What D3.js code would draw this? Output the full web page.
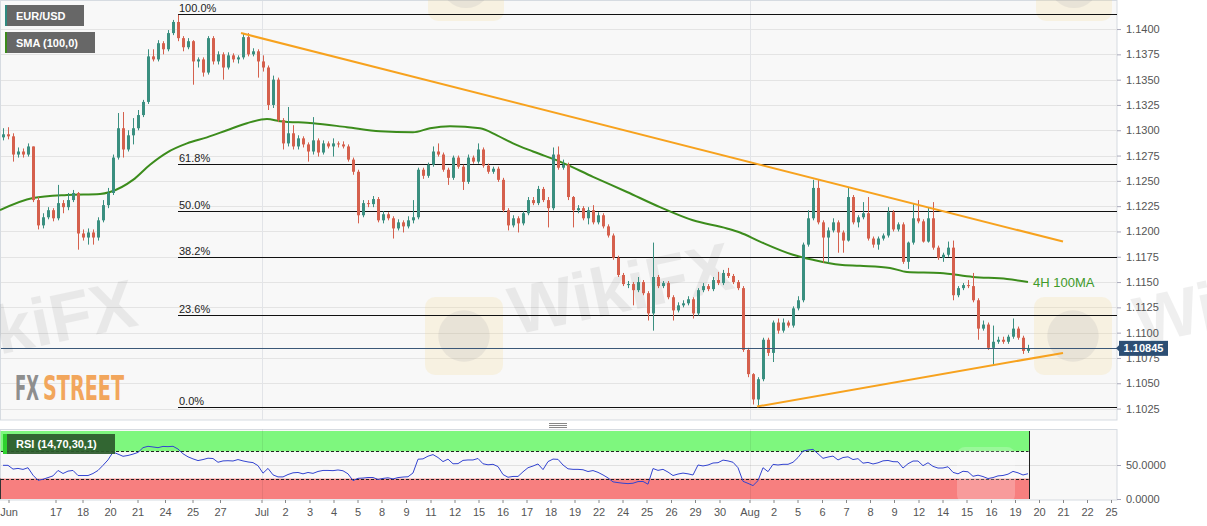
<!DOCTYPE html>
<html>
<head>
<meta charset="utf-8">
<script src="https://cdn.jsdelivr.net/npm/d3@7"></script>
<style>
html, body { margin: 0; padding: 0; background: #fff; }
svg { display: block; font-family: "Liberation Sans", Arial, sans-serif; }
</style>
</head>
<body>
<svg id="chart" width="1207" height="526"></svg>
<script>
///////////// DATA /////////////
// 4H candles, open = previous close
var firstOpen = 1.1293;
var closes = [
 1.1296,1.1294,1.1276,1.1279,1.1276,1.1284,1.1231,1.1206,1.1214,1.1221,
 1.1213,1.1228,1.1224,1.1231,1.1238,1.1198,1.1194,1.1199,1.1194,1.1211,
 1.1226,1.1238,1.1273,1.1302,1.1281,1.1295,1.1302,1.1315,1.1328,1.1373,
 1.1370,1.1386,1.1380,1.1396,1.1407,1.1391,1.1382,1.1388,1.1368,1.1370,
 1.1357,1.1391,1.1368,1.1375,1.1362,1.1374,1.1370,1.1372,1.1392,1.1375,
 1.1378,1.1368,1.1362,1.1325,1.1350,1.1310,1.1287,1.1297,1.1284,1.1292,
 1.1286,1.1279,1.1290,1.1278,1.1287,1.1284,1.1287,1.1286,1.1284,1.1271,
 1.1259,1.1216,1.1228,1.1227,1.1232,1.1211,1.1217,1.1213,1.1203,1.1209,
 1.1205,1.1211,1.1214,1.1261,1.1255,1.1266,1.1279,1.1276,1.1261,1.1253,
 1.1273,1.1264,1.1249,1.1273,1.1269,1.1281,1.1265,1.1259,1.1262,1.1251,
 1.1221,1.1206,1.1213,1.1208,1.1218,1.1231,1.1228,1.1242,1.1231,1.1223,
 1.1276,1.1263,1.1266,1.1234,1.1221,1.1223,1.1213,1.1221,1.1209,1.1216,
 1.1205,1.1196,1.1174,1.1157,1.1148,1.1148,1.1142,1.1150,1.1139,1.1119,
 1.1155,1.1146,1.1149,1.1135,1.1122,1.1127,1.1129,1.1133,1.1119,1.1142,
 1.1146,1.1143,1.1152,1.1149,1.1159,1.1156,1.1150,1.1144,1.1083,1.1059,
 1.1034,1.1054,1.1093,1.1080,1.1110,1.1102,1.1110,1.1107,1.1124,1.1132,
 1.1187,1.1213,1.1243,1.1209,1.1194,1.1201,1.1209,1.1199,1.1191,1.1234,
 1.1209,1.1214,1.1218,1.1193,1.1187,1.1193,1.1196,1.1219,1.1202,1.1207,
 1.1170,1.1189,1.1213,1.1210,1.1190,1.1213,1.1184,1.1174,1.1177,1.1184,
 1.1137,1.1144,1.1147,1.1146,1.1132,1.1104,1.1108,1.1085,1.1091,1.1093,
 1.1091,1.1096,1.1104,1.1095,1.1082,1.10845
];
var highs = [
 1.1302,1.1303,1.1297,1.1283,1.1282,1.1287,1.1284,1.1234,1.1218,1.1224,
 1.1223,1.1246,1.1231,1.1238,1.1241,1.1239,1.1202,1.1203,1.1202,1.1214,
 1.1231,1.1243,1.1276,1.1317,1.1318,1.1300,1.1312,1.1320,1.1330,1.1380,
 1.1380,1.1389,1.1388,1.1399,1.1409,1.1414,1.1393,1.1391,1.1389,1.1372,
 1.1372,1.1393,1.1393,1.1378,1.1377,1.1377,1.1376,1.1374,1.1396,1.1396,
 1.1381,1.1380,1.1374,1.1364,1.1354,1.1352,1.1312,1.1323,1.1305,1.1295,
 1.1294,1.1288,1.1313,1.1292,1.1290,1.1289,1.1292,1.1289,1.1289,1.1286,
 1.1273,1.1261,1.1231,1.1231,1.1235,1.1234,1.1220,1.1219,1.1215,1.1212,
 1.1211,1.1215,1.1231,1.1263,1.1263,1.1268,1.1284,1.1287,1.1278,1.1263,
 1.1275,1.1275,1.1266,1.1276,1.1275,1.1287,1.1283,1.1267,1.1264,1.1264,
 1.1253,1.1223,1.1216,1.1215,1.1220,1.1234,1.1234,1.1245,1.1244,1.1234,
 1.1283,1.1284,1.1271,1.1268,1.1235,1.1226,1.1225,1.1224,1.1226,1.1219,
 1.1218,1.1207,1.1198,1.1176,1.1159,1.1151,1.1150,1.1155,1.1152,1.1141,
 1.1189,1.1157,1.1151,1.1151,1.1137,1.1130,1.1132,1.1136,1.1135,1.1144,
 1.1149,1.1148,1.1155,1.1160,1.1162,1.1164,1.1158,1.1152,1.1146,1.1085,
 1.1060,1.1056,1.1095,1.1095,1.1112,1.1114,1.1114,1.1112,1.1126,1.1136,
 1.1189,1.1221,1.1251,1.1251,1.1211,1.1204,1.1213,1.1211,1.1201,1.1243,
 1.1236,1.1216,1.1229,1.1234,1.1195,1.1195,1.1198,1.1224,1.1221,1.1209,
 1.1209,1.1190,1.1228,1.1231,1.1212,1.1224,1.1229,1.1186,1.1179,1.1190,
 1.1191,1.1146,1.1149,1.1152,1.1159,1.1134,1.1112,1.1110,1.1107,1.1096,
 1.1096,1.1098,1.1114,1.1106,1.1097,1.1088
];
var lows = [
 1.1290,1.1291,1.1269,1.1273,1.1273,1.1274,1.1229,1.1202,1.1203,1.1212,
 1.1210,1.1211,1.1218,1.1221,1.1229,1.1182,1.1191,1.1187,1.1187,1.1191,
 1.1209,1.1223,1.1236,1.1271,1.1273,1.1279,1.1286,1.1300,1.1313,1.1326,
 1.1368,1.1368,1.1375,1.1378,1.1394,1.1388,1.1378,1.1380,1.1345,1.1362,
 1.1353,1.1355,1.1365,1.1365,1.1350,1.1360,1.1367,1.1366,1.1370,1.1373,
 1.1373,1.1352,1.1358,1.1320,1.1322,1.1308,1.1281,1.1284,1.1281,1.1281,
 1.1283,1.1269,1.1276,1.1274,1.1276,1.1282,1.1274,1.1283,1.1282,1.1269,
 1.1256,1.1208,1.1214,1.1224,1.1224,1.1209,1.1208,1.1211,1.1193,1.1201,
 1.1199,1.1203,1.1208,1.1212,1.1252,1.1253,1.1264,1.1274,1.1259,1.1246,
 1.1251,1.1262,1.1241,1.1247,1.1267,1.1267,1.1263,1.1257,1.1257,1.1249,
 1.1219,1.1201,1.1204,1.1199,1.1206,1.1216,1.1226,1.1226,1.1229,1.1204,
 1.1221,1.1261,1.1261,1.1231,1.1204,1.1218,1.1211,1.1207,1.1207,1.1207,
 1.1203,1.1194,1.1172,1.1155,1.1146,1.1144,1.1127,1.1140,1.1137,1.1112,
 1.1102,1.1144,1.1144,1.1133,1.1112,1.1120,1.1125,1.1127,1.1114,1.1117,
 1.1140,1.1141,1.1141,1.1147,1.1147,1.1154,1.1148,1.1142,1.1081,1.1056,
 1.1029,1.1027,1.1052,1.1077,1.1071,1.1099,1.1100,1.1105,1.1105,1.1122,
 1.1130,1.1185,1.1211,1.1207,1.1169,1.1169,1.1199,1.1179,1.1179,1.1190,
 1.1207,1.1204,1.1212,1.1191,1.1184,1.1182,1.1191,1.1194,1.1200,1.1200,
 1.1168,1.1163,1.1187,1.1208,1.1189,1.1189,1.1182,1.1172,1.1170,1.1175,
 1.1132,1.1135,1.1142,1.1144,1.1130,1.1093,1.1102,1.1083,1.1068,1.1089,
 1.1089,1.1089,1.1094,1.1093,1.1079,1.1080
];
var rsi = [
 49.5,49.5,44,45,43.5,46,35,27.5,29,31.5,
 34,42,37.5,41,42,34.5,34.5,34.5,37.5,42,
 49.5,57.5,69,66,62.8,64,66,68.5,75.5,77.5,
 76.5,75.5,77.3,77,77.5,73.5,66.5,62,59,56.5,
 58,60,59.5,54,56,56.3,55.9,58,56,54.5,
 53.5,49,38,45,35.5,32.5,32.5,36,38.5,39,
 37,39,37.7,40.5,42,42,41.7,42.7,41.5,37,
 27,30.4,30.8,31.6,31.6,28.8,30.3,31.2,29.5,31.5,
 32.3,32.7,38.3,58.5,59,63,65.3,61,55,58.6,
 51.8,52,56.8,57.4,57.4,59.6,51.8,50.3,51,47.7,
 36,32,33.2,33.2,40,46,48.5,51.5,43.2,55,
 58.7,58.3,50,44.4,43.6,43.6,43,40.4,41.8,39.2,
 35.4,31,25.2,24.1,23.2,22.6,23.2,25.6,25.8,21.8,
 44.8,42.1,43.6,39.6,34.5,36.7,38.1,37,35.3,50,
 48.6,50,52.9,53.4,57.2,56,54,46,26,23,
 19.7,27,46,40.2,50.9,50,51,51,54,61,
 70.5,72,73,66.5,59.8,61.7,63.1,57.4,61,62,
 58,59.3,52.7,53.8,51.5,53.2,56.1,56.7,54.9,54.7,
 45.5,51.9,55.8,55.9,49,53.3,48,45.5,45.6,47.4,
 39.2,37,40.8,40,33.4,35,33,30.1,31.5,34,
 34.6,36.5,40.6,38.5,35.3,37.2
];

// 100-period SMA (candle index, price)
var smaIdx = [-0.6,6,12.8,19.4,21.4,26,29.4,32.8,36.8,40.8,44.8,48.8,52.8,55.4,62,68.8,75.4,82,85.4,89.4,95.4,98.8,102,106,111.4,118,124.8,131.4,138,144.8,147.4,151.4,158,162,167.4,171.4,177.4,180.8,187.4,194,200.8,205];
var smaVal = [1.1221,1.1233,1.1236,1.1237,1.1239,1.1251,1.1266,1.1278,1.1287,1.1293,1.1300,1.1307,1.1311,1.1309,1.1307,1.1303,1.1299,1.1298,1.1302,1.1304,1.1302,1.1295,1.1287,1.1279,1.1269,1.1254,1.1239,1.1224,1.1211,1.1203,1.1199,1.1190,1.1177,1.1172,1.1167,1.1166,1.1164,1.1160,1.1159,1.1155,1.1153,1.1150];

// trend lines
var upperIdx = [47.6, 212], upperVal = [1.1396, 1.1190];
var lowerIdx = [150.8, 212], lowerVal = [1.1027, 1.1080];

// fibonacci retracement
var fibHigh = 1.14145, fibLow = 1.10263, fibStart = 35;
var fibLevels = [1, 0.618, 0.5, 0.382, 0.236, 0];

var lastPrice = 1.10845;
var priceTicks = [1.1025,1.1050,1.1075,1.1100,1.1125,1.1150,1.1175,1.1200,1.1225,1.1250,1.1275,1.1300,1.1325,1.1350,1.1375,1.1400];
var rsiTicks = [0, 50];
var rsiUpper = 70, rsiLower = 30;

var dayLabels = ['Jun','17','18','20','21','24','25','27','Jul','2','3','4','5','8','9','11','12','15','16','17','18','19','22','24','25','26','29','30','Aug','2','5','6','7','8','9','12','14','15','16','19','20','21','22','25'];
var dayTicks = [1.1,10.5,15.9,21.4,26.9,32.4,37.9,43.4,51.7,56.4,61.3,66.1,70.9,75.7,80.6,85.5,90.3,95.1,99.9,104.7,109.5,114.3,119.1,123.9,128.7,133.6,138.4,143.3,149.3,154.1,158.9,163.8,168.6,173.4,178.2,183.1,187.9,192.7,197.6,202.4,207.2,212.0,216.8,221.6];

///////////// LAYOUT /////////////
var plotR = 1117;
var mainBot = 420, rsiTop = 429.5, rsiBot = 500;
var upCol = '#3a8f80', downCol = '#d5604d';

var svg = d3.select('#chart');
var x = d3.scaleLinear().domain([-0.6, 222.8]).range([0, plotR]);
var y = d3.scaleLinear().domain([1.10137, 1.14287]).range([mainBot, 0]);
var yr = d3.scaleLinear().domain([0, 100]).range([499, 431]);
var lastIdx = closes.length - 1;

function px(v) { return Math.round(v) + 0.5; }

// panels
svg.append('rect').attr('x', 0.5).attr('y', 0.5).attr('width', plotR - 0.5).attr('height', mainBot - 0.5)
  .attr('fill', '#f8f8f8').attr('stroke', '#d6dbe1');
svg.append('rect').attr('x', 0.5).attr('y', rsiTop).attr('width', plotR - 0.5).attr('height', rsiBot - rsiTop)
  .attr('fill', '#f8f8f8').attr('stroke', '#d6dbe1');

// horizontal grid
svg.append('g').selectAll('line').data(priceTicks).join('line')
  .attr('x1', 1).attr('x2', plotR).attr('y1', function(d) { return px(y(d)); }).attr('y2', function(d) { return px(y(d)); })
  .attr('stroke', '#e4e4e4');

// month gridlines
var monthTicks = dayTicks.filter(function(d, i) { return isNaN(+dayLabels[i]) && i > 0; });
svg.append('g').selectAll('line').data(monthTicks).join('line')
  .attr('x1', function(d) { return px(x(d)); }).attr('x2', function(d) { return px(x(d)); })
  .attr('y1', 1).attr('y2', mainBot).attr('stroke', '#e2e4e8');

// watermarks
var wm = svg.append('g').attr('pointer-events', 'none');
function badge(bx, by, s) {
  wm.append('rect').attr('x', bx).attr('y', by).attr('width', s).attr('height', s).attr('rx', 10)
    .attr('fill', '#f2d27a').attr('opacity', 0.18);
  wm.append('circle').attr('cx', bx + s / 2).attr('cy', by + s / 2).attr('r', s * 0.33)
    .attr('fill', '#6a6a80').attr('opacity', 0.1);
}
function wmText(tx, ty, anchor) {
  wm.append('text').attr('x', tx).attr('y', ty).attr('text-anchor', anchor)
    .attr('transform', 'rotate(-12,' + tx + ',' + ty + ')')
    .attr('font-size', 68).attr('font-weight', 'bold').attr('fill', '#000').attr('opacity', 0.06)
    .text('WikiFX');
}
badge(428, -55, 76); badge(1036, -55, 76);
badge(425, 297, 78); badge(1034, 297, 78);
wmText(140, 325, 'end');
wmText(515, 335, 'start');
wmText(1140, 345, 'start');

// fibonacci lines
var fib = svg.append('g');
fibLevels.forEach(function(p) {
  var v = fibLow + p * (fibHigh - fibLow);
  fib.append('line').attr('x1', x(fibStart)).attr('x2', plotR)
    .attr('y1', px(y(v))).attr('y2', px(y(v))).attr('stroke', '#111').attr('stroke-width', 1);
  fib.append('text').attr('x', x(fibStart) + 1).attr('y', px(y(v)) - 3)
    .attr('font-size', 11).attr('fill', '#222').text(d3.format('.1f')(p * 100) + '%');
});

// SMA
var smaPts = smaIdx.map(function(d, i) { return [d, smaVal[i]]; });
svg.append('path').datum(smaPts)
  .attr('d', d3.line().x(function(d) { return x(d[0]); }).y(function(d) { return y(d[1]); }).curve(d3.curveMonotoneX))
  .attr('fill', 'none').attr('stroke', '#3c8c1c').attr('stroke-width', 2);

// candles
var candles = closes.map(function(c, i) {
  var o = i === 0 ? firstOpen : closes[i - 1];
  return {i: i, o: o, c: c, h: Math.max(highs[i], o, c), l: Math.min(lows[i], o, c)};
});
var cg = svg.append('g');
cg.selectAll('line').data(candles).join('line')
  .attr('x1', function(d) { return px(x(d.i)); }).attr('x2', function(d) { return px(x(d.i)); })
  .attr('y1', function(d) { return y(d.h); }).attr('y2', function(d) { return y(d.l); })
  .attr('stroke', function(d) { return d.c >= d.o ? upCol : downCol; });
cg.selectAll('rect').data(candles).join('rect')
  .attr('x', function(d) { return Math.round(x(d.i)) - 1; }).attr('width', 3)
  .attr('y', function(d) { return y(Math.max(d.o, d.c)); })
  .attr('height', function(d) { return Math.max(1, Math.abs(y(d.o) - y(d.c))); })
  .attr('fill', function(d) { return d.c >= d.o ? upCol : downCol; });

// trend lines
[[upperIdx, upperVal], [lowerIdx, lowerVal]].forEach(function(t) {
  svg.append('line').attr('x1', x(t[0][0])).attr('y1', y(t[1][0])).attr('x2', x(t[0][1])).attr('y2', y(t[1][1]))
    .attr('stroke', '#f7a21e').attr('stroke-width', 2);
});

svg.append('text').attr('x', x(lastIdx) + 5).attr('y', y(smaVal[smaVal.length - 1]) + 5)
  .attr('font-size', 13).attr('fill', '#3f9a2a').text('4H 100MA');

// last price line
svg.append('line').attr('x1', 1).attr('x2', plotR).attr('y1', px(y(lastPrice))).attr('y2', px(y(lastPrice)))
  .attr('stroke', '#3b5878').attr('stroke-width', 1);

// price axis
var pAxis = svg.append('g').attr('transform', 'translate(' + plotR + ',0)')
  .call(d3.axisRight(y).tickValues(priceTicks).tickFormat(d3.format('.4f')).tickSize(4).tickPadding(5));
pAxis.select('.domain').remove();
pAxis.selectAll('line').attr('stroke', '#aab');
pAxis.selectAll('text').attr('fill', '#555').attr('font-size', 11).attr('font-family', '"Liberation Sans", Arial, sans-serif');

// last price tag
var ly = y(lastPrice);
svg.append('path').attr('d', 'M' + (plotR - 1) + ',' + ly + 'L' + (plotR + 3) + ',' + (ly - 4) + 'L' + (plotR + 3) + ',' + (ly + 4) + 'Z')
  .attr('fill', '#2c4e74');
svg.append('rect').attr('x', plotR + 2).attr('y', ly - 7.5).attr('width', 49).attr('height', 15).attr('fill', '#2c4e74');
svg.append('text').attr('x', plotR + 26.5).attr('y', ly + 4).attr('text-anchor', 'middle')
  .attr('font-size', 11).attr('font-weight', 'bold').attr('fill', '#fff').text(d3.format('.5f')(lastPrice));

// legend boxes
function tag(tx, ty, w, h, accent, bg, label) {
  svg.append('rect').attr('x', tx).attr('y', ty).attr('width', w).attr('height', h).attr('fill', bg);
  svg.append('rect').attr('x', tx).attr('y', ty).attr('width', 2).attr('height', h).attr('fill', accent);
  svg.append('text').attr('x', tx + 11).attr('y', ty + h / 2 + 4).attr('font-size', 11).attr('font-weight', 'bold')
    .attr('fill', '#fff').text(label);
}
tag(5, 5, 79, 21, '#2f8a80', '#676767', 'EUR/USD');
tag(5, 32, 90, 21, '#3a8a1a', '#676767', 'SMA (100,0)');

// FXSTREET logo
function logoPart(lx, len, col, str) {
  svg.append('text').attr('x', lx).attr('y', 400).attr('font-size', 34).attr('font-weight', 'bold')
    .attr('font-family', '"Liberation Sans Narrow", "DejaVu Sans Condensed", sans-serif')
    .attr('textLength', len).attr('lengthAdjust', 'spacingAndGlyphs').attr('fill', col).text(str);
}
logoPart(15, 24, '#8e8e8e', 'FX');
logoPart(43, 81, '#f2a65c', 'STREET');

// resize handle
svg.append('g').selectAll('line').data([423.5, 425.5, 427.5]).join('line')
  .attr('x1', 549).attr('x2', 567).attr('y1', function(d) { return d; }).attr('y2', function(d) { return d; })
  .attr('stroke', '#888');

///////////// RSI PANEL /////////////
var xe = x(lastIdx) + 0.5;
svg.append('rect').attr('x', 0.5).attr('y', yr(100)).attr('width', xe).attr('height', yr(rsiUpper) - yr(100)).attr('fill', '#7ef77e');
svg.append('rect').attr('x', 0.5).attr('y', yr(rsiLower)).attr('width', xe).attr('height', yr(0) - yr(rsiLower)).attr('fill', '#f77f7f');
svg.append('line').attr('x1', 1).attr('x2', plotR).attr('y1', px(yr(50))).attr('y2', px(yr(50))).attr('stroke', '#e0e0e0');
[rsiUpper, rsiLower].forEach(function(v) {
  svg.append('line').attr('x1', 1).attr('x2', xe).attr('y1', px(yr(v))).attr('y2', px(yr(v)))
    .attr('stroke', '#222').attr('stroke-dasharray', '3,2');
});
svg.append('line').attr('x1', px(xe)).attr('x2', px(xe)).attr('y1', yr(100)).attr('y2', yr(0)).attr('stroke', '#222');
svg.append('line').attr('x1', 0.5).attr('x2', 0.5).attr('y1', yr(rsiLower)).attr('y2', yr(0)).attr('stroke', '#333');
svg.append('g').selectAll('line').data(monthTicks).join('line')
  .attr('x1', function(d) { return px(x(d)); }).attr('x2', function(d) { return px(x(d)); })
  .attr('y1', rsiTop).attr('y2', rsiBot).attr('stroke', '#000').attr('stroke-opacity', 0.07);
svg.append('rect').attr('x', 957).attr('y', 447).attr('width', 58).attr('height', 56).attr('rx', 8)
  .attr('fill', '#fff').attr('opacity', 0.22);

svg.append('path').datum(rsi)
  .attr('d', d3.line().x(function(d, i) { return x(i); }).y(function(d) { return yr(d); }))
  .attr('fill', 'none').attr('stroke', '#3344d0').attr('stroke-width', 1);

svg.append('rect').attr('x', 3).attr('y', 434).attr('width', 112).attr('height', 20).attr('fill', '#2c5a2c').attr('opacity', 0.93);
svg.append('rect').attr('x', 3).attr('y', 434).attr('width', 4).attr('height', 20).attr('fill', '#2ed12e');
svg.append('text').attr('x', 16).attr('y', 448).attr('font-size', 11).attr('font-weight', 'bold').attr('fill', '#fff')
  .text('RSI (14,70,30,1)');

var rAxis = svg.append('g').attr('transform', 'translate(' + plotR + ',0)')
  .call(d3.axisRight(yr).tickValues(rsiTicks).tickFormat(d3.format('.4f')).tickSize(4).tickPadding(5));
rAxis.select('.domain').remove();
rAxis.selectAll('line').attr('stroke', '#aab');
rAxis.selectAll('text').attr('fill', '#555').attr('font-size', 11).attr('font-family', '"Liberation Sans", Arial, sans-serif');

// time axis
var tAxis = svg.append('g').attr('transform', 'translate(0,' + rsiBot + ')')
  .call(d3.axisBottom(x).tickValues(dayTicks).tickFormat(function(d, i) { return dayLabels[i]; }).tickSize(3).tickPadding(5));
tAxis.select('.domain').remove();
tAxis.selectAll('line').attr('stroke', '#888');
tAxis.selectAll('text').attr('fill', '#555').attr('font-size', 11).attr('font-family', '"Liberation Sans", Arial, sans-serif');
</script>
</body>
</html>
